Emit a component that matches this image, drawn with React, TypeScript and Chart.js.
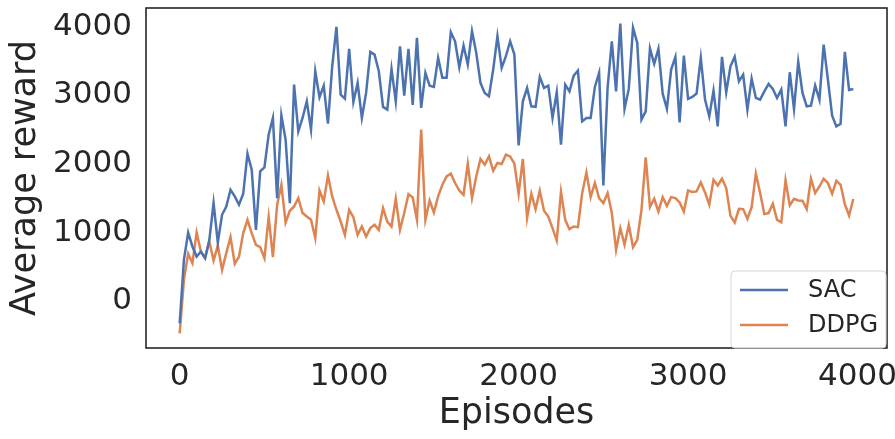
import React, { useEffect, useRef } from "react";
import { Chart, registerables } from "chart.js";

Chart.register(...registerables);

// Episodes sampled every 25 steps (0 .. 3975)
const episodes: number[] = Array.from({ length: 160 }, (_, i) => i * 25);

const sacReward: number[] = [
  -318, 605, 1003, 800, 653, 726, 630, 897, 1431, 857,
  1261, 1382, 1625, 1528, 1407, 1567, 2150, 1917, 1042, 1892,
  1950, 2427, 2670, 1504, 2708, 2354, 1431, 3156, 2475, 2670,
  2913, 2500, 3350, 2971, 3141, 2587, 3423, 3997, 3010, 2952,
  3676, 2904, 3181, 2670, 3035, 3633, 3593, 3350, 2831, 2792,
  3385, 2913, 3714, 2996, 3676, 2860, 3836, 2816, 3327, 3141,
  3122, 3545, 3254, 3254, 3918, 3787, 3408, 3724, 3448, 3933,
  3618, 3181, 3035, 2986, 3375, 3860, 3400, 3569, 3787, 3593,
  2271, 2913, 3108, 2840, 2831, 3268, 3108, 3141, 2670, 3044,
  2281, 3156, 3058, 3287, 3360, 2621, 2670, 2670, 3122, 3327,
  1688, 3108, 3787, 3058, 4045, 2802, 3093, 3982, 3764, 2646,
  2767, 3681, 3458, 3676, 3025, 2802, 3375, 3560, 2607, 3579,
  2948, 2977, 3025, 3545, 2937, 2694, 3068, 2548, 3560, 3044,
  3423, 3560, 3204, 3302, 2792, 3243, 2962, 2937, 3058, 3166,
  3093, 2962, 3083, 2548, 3336, 2802, 3487, 3035, 2840, 2850,
  3141, 2937, 3739, 3229, 2704, 2548, 2587, 3633, 3078, 3093,
];

const ddpgReward: number[] = [
  -464, 313, 692, 557, 1003, 726, 630, 872, 595, 813,
  459, 703, 936, 547, 653, 994, 1188, 994, 824, 790,
  630, 1227, 644, 1407, 1698, 1149, 1319, 1382, 1504, 1286,
  1236, 1188, 921, 1615, 1455, 1834, 1528, 1334, 1163, 969,
  1334, 1227, 969, 1090, 945, 1067, 1115, 1042, 1359, 1163,
  1090, 1494, 1042, 1286, 1562, 1513, 1188, 2500, 1188, 1469,
  1294, 1528, 1698, 1819, 1859, 1723, 1615, 1552, 2004, 1504,
  1819, 2073, 1990, 2111, 1902, 2015, 2000, 2136, 2111, 2004,
  1567, 2073, 1213, 1567, 1344, 1611, 1319, 1236, 1067, 886,
  1592, 1188, 1052, 1090, 1081, 1577, 1878, 1518, 1723, 1504,
  1431, 1577, 1286, 751, 1067, 824, 1115, 790, 897, 1334,
  2096, 1373, 1494, 1309, 1518, 1392, 1518, 1504, 1440, 1309,
  1615, 1592, 1601, 1732, 1586, 1407, 1771, 1688, 1786, 1650,
  1246, 1149, 1348, 1344, 1203, 1373, 1859, 1577, 1271, 1286,
  1421, 1188, 1154, 1761, 1397, 1494, 1469, 1465, 1344, 1786,
  1577, 1673, 1786, 1723, 1567, 1757, 1698, 1417, 1251, 1490,
];

const xTicks: number[] = [0, 1000, 2000, 3000, 4000];
const yTicks: number[] = [0, 1000, 2000, 3000, 4000];
const seriesNames: string[] = ["SAC", "DDPG"];
const seriesColors: string[] = ["#4C72B0", "#DD8452"];
const xTitle = "Episodes";
const yTitle = "Average reward";

const FONT = '"DejaVu Sans", "Liberation Sans", sans-serif';
const TEXT = "#262626";

const framePlugin = {
  id: "frame",
  afterDatasetsDraw(chart: any) {
    const { ctx, chartArea } = chart;
    ctx.save();
    ctx.strokeStyle = TEXT;
    ctx.lineWidth = 1.6;
    ctx.strokeRect(
      chartArea.left,
      chartArea.top,
      chartArea.right - chartArea.left,
      chartArea.bottom - chartArea.top
    );
    ctx.restore();
  },
};

const legendPlugin = {
  id: "cornerLegend",
  afterDraw(chart: any) {
    const { ctx, chartArea } = chart;
    const w = 155;
    const h = 77;
    const x = chartArea.right - w - 1;
    const y = chartArea.bottom - h;
    ctx.save();
    ctx.beginPath();
    const r = 4;
    ctx.moveTo(x + r, y);
    ctx.lineTo(x + w - r, y);
    ctx.quadraticCurveTo(x + w, y, x + w, y + r);
    ctx.lineTo(x + w, y + h - r);
    ctx.quadraticCurveTo(x + w, y + h, x + w - r, y + h);
    ctx.lineTo(x + r, y + h);
    ctx.quadraticCurveTo(x, y + h, x, y + h - r);
    ctx.lineTo(x, y + r);
    ctx.quadraticCurveTo(x, y, x + r, y);
    ctx.closePath();
    ctx.fillStyle = "rgba(255,255,255,0.8)";
    ctx.fill();
    ctx.strokeStyle = "#d6d6d6";
    ctx.lineWidth = 1;
    ctx.stroke();
    seriesNames.forEach((name, i) => {
      const cy = y + 19 + i * 35;
      ctx.beginPath();
      ctx.strokeStyle = seriesColors[i];
      ctx.lineWidth = 2.5;
      ctx.moveTo(x + 9, cy);
      ctx.lineTo(x + 57, cy);
      ctx.stroke();
      ctx.fillStyle = TEXT;
      ctx.font = `24px ${FONT}`;
      ctx.textBaseline = "middle";
      ctx.textAlign = "left";
      ctx.fillText(name, x + 77, cy + 1);
    });
    ctx.restore();
  },
};

export default function App() {
  const canvasRef = useRef<HTMLCanvasElement | null>(null);

  useEffect(() => {
    const canvas = canvasRef.current;
    if (!canvas) return;
    const series = [sacReward, ddpgReward];
    const chart = new Chart(canvas, {
      type: "line",
      data: {
        datasets: seriesNames.map((name, si) => ({
          label: name,
          data: episodes.map((e, i) => ({ x: e, y: series[si][i] })),
          borderColor: seriesColors[si],
          backgroundColor: seriesColors[si],
          borderWidth: 2.5,
          pointRadius: 0,
          tension: 0,
          fill: false,
        })),
      },
      options: {
        animation: false,
        responsive: false,
        maintainAspectRatio: false,
        layout: { padding: { top: 8, right: 8, left: 0, bottom: 0 } },
        plugins: {
          legend: { display: false },
          tooltip: { enabled: false },
        },
        scales: {
          x: {
            type: "linear",
            min: -198.75,
            max: 4173.75,
            grid: { display: false, drawTicks: false },
            border: { display: false },
            afterBuildTicks: (scale: any) => {
              scale.ticks = xTicks.map((v) => ({ value: v }));
            },
            afterFit: (scale: any) => {
              scale.height = 91;
              scale.paddingLeft = 0;
              scale.paddingRight = 0;
            },
            ticks: {
              font: { family: FONT, size: 31 },
              color: TEXT,
              padding: 10,
              maxRotation: 0,
              autoSkip: false,
              callback: (v: any) => String(v),
            },
            title: {
              display: true,
              text: xTitle,
              font: { family: FONT, size: 35 },
              color: TEXT,
              padding: { top: 0, bottom: 4 },
            },
          },
          y: {
            type: "linear",
            min: -678,
            max: 4271,
            grid: { display: false, drawTicks: false },
            border: { display: false },
            afterBuildTicks: (scale: any) => {
              scale.ticks = yTicks.map((v) => ({ value: v }));
            },
            afterFit: (scale: any) => {
              scale.width = 146;
              scale.paddingTop = 0;
              scale.paddingBottom = 0;
            },
            ticks: {
              font: { family: FONT, size: 31 },
              color: TEXT,
              padding: 14,
              autoSkip: false,
              callback: (v: any) => String(v),
            },
            title: {
              display: true,
              text: yTitle,
              font: { family: FONT, size: 35 },
              color: TEXT,
              padding: { top: 5, bottom: 0 },
            },
          },
        },
      },
      plugins: [framePlugin, legendPlugin],
    });
    return () => chart.destroy();
  }, []);

  return (
    <div style={{ position: "fixed", left: 0, top: 0, width: 895, height: 439, background: "#ffffff" }}>
      <canvas ref={canvasRef} width={895} height={439} style={{ display: "block" }} />
    </div>
  );
}
